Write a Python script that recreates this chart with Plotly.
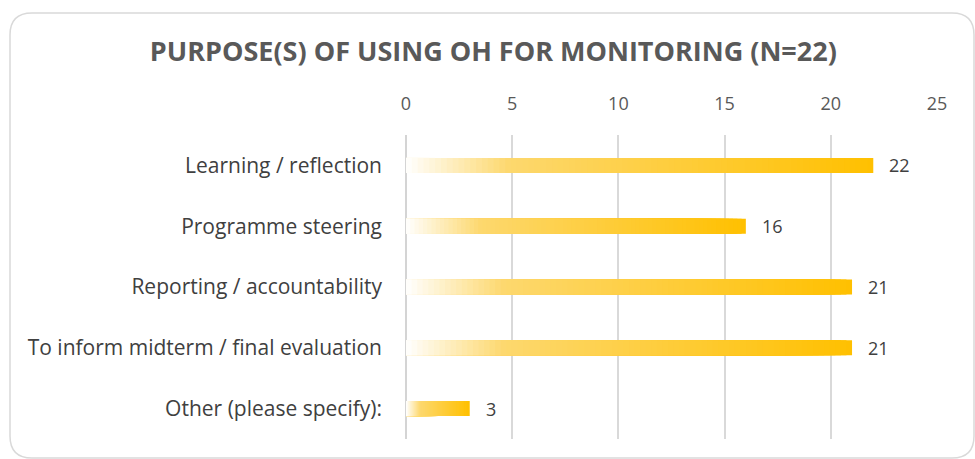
import plotly.graph_objects as go

categories = ["Learning / reflection", "Programme steering", "Reporting / accountability",
              "To inform midterm / final evaluation", "Other (please specify):"]
values = [22, 16, 21, 21, 3]
tick_vals = [0, 5, 10, 15, 20, 25]

# gradient colour stops (position along bar, rgb)
stops = [(0.0, (255, 255, 255)), (0.22, (253, 216, 110)), (1.0, (255, 192, 0))]

def grad(t):
    for (p0, c0), (p1, c1) in zip(stops[:-1], stops[1:]):
        if p0 <= t <= p1:
            f = (t - p0) / (p1 - p0)
            return "rgb(%d,%d,%d)" % tuple(round(a + (b - a) * f) for a, b in zip(c0, c1))
    return "rgb(255,192,0)"

N = 80
fig = go.Figure()
for k in range(N):
    frac = (N - k) / N
    fig.add_trace(go.Bar(
        y=categories, x=[v * frac for v in values], orientation="h",
        marker=dict(color=grad(frac - 0.5 / N), line=dict(width=0)),
        hoverinfo="skip", showlegend=False,
    ))

L, R, T, B = 406, 937, 135, 439
W, H = R - L, B - T
def px(x): return (x - L) / W
def py(y): return (B - y) / H
x0, x1, y0, y1, r = 10, 974, 13, 458, 22
path = ("M {a},{b} L {c},{b} Q {d},{b} {d},{e} L {d},{f} Q {d},{g} {c},{g} "
        "L {a},{g} Q {h},{g} {h},{f} L {h},{e} Q {h},{b} {a},{b} Z").format(
    a=px(x0 + r), b=py(y0), c=px(x1 - r), d=px(x1), e=py(y0 + r),
    f=py(y1 - r), g=py(y1), h=px(x0))

annotations = [dict(x=v, y=c, xref="x", yref="y", text=str(v), showarrow=False,
                    xanchor="left", yanchor="middle", xshift=14,
                    font=dict(family="Open Sans", size=18, color="#404040"))
               for c, v in zip(categories, values)]

fig.update_layout(
    width=975, height=459,
    margin=dict(l=L, r=975 - R, t=T, b=459 - B),
    paper_bgcolor="white", plot_bgcolor="white",
    barmode="overlay", bargap=0.753,
    title=dict(text="<b>PURPOSE(S) OF USING OH FOR MONITORING (N=22)</b>",
               x=0.506, xanchor="center", y=1 - 52 / 459, yanchor="middle",
               font=dict(family="Open Sans", size=27, color="#595959")),
    xaxis=dict(side="top", range=[0, 25], tickvals=tick_vals,
               showgrid=True, gridcolor="#D9D9D9", gridwidth=2,
               zeroline=True, zerolinecolor="#D4D4D4", zerolinewidth=2,
               showline=False, ticks="",
               tickfont=dict(family="Open Sans", size=18, color="#595959"),
               ticklabelstandoff=20),
    yaxis=dict(autorange="reversed", showgrid=False, zeroline=False, showline=False,
               ticks="", tickfont=dict(family="Open Sans", size=21, color="#404040"),
               ticklabelstandoff=23),
    annotations=annotations,
    shapes=[dict(type="path", path=path, xref="paper", yref="paper",
                 line=dict(color="#D9D9D9", width=1.5), layer="below")],
)
fig.write_html("out.html", config={"displayModeBar": False},
               post_script="document.body.style.margin='0';")
